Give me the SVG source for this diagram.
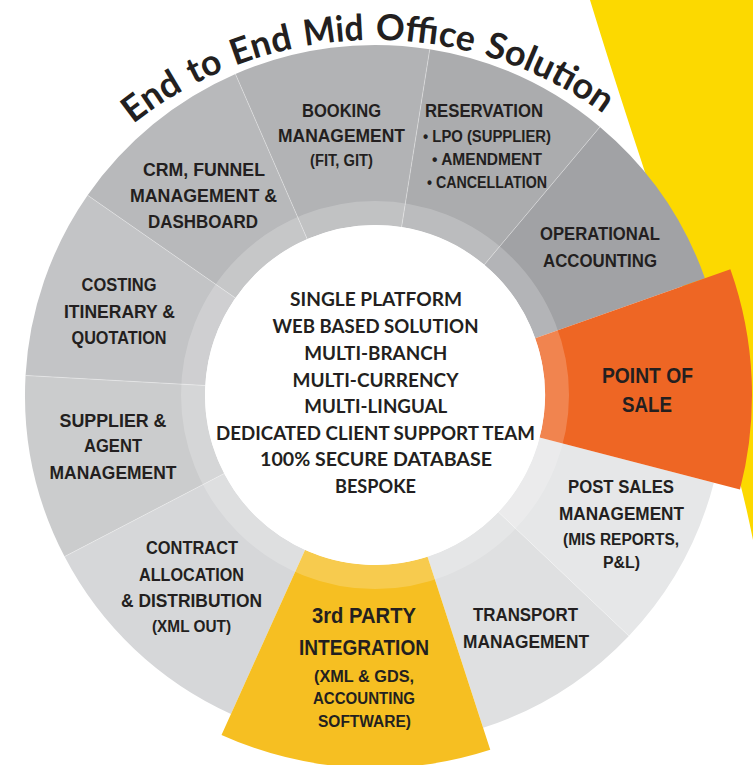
<svg xmlns="http://www.w3.org/2000/svg" width="753" height="765" viewBox="0 0 753 765">
<style>
.lb{font-family:"Liberation Sans",Arial,sans-serif;font-weight:bold;font-size:19px;fill:#231f20;text-anchor:middle}
.sm{font-size:16px}
.big{font-size:22px}
.ct{font-family:Lato,"Open Sans","DejaVu Sans",sans-serif;font-weight:bold;font-size:19px;fill:#231f20;text-anchor:middle}
.title{font-family:Lato,"Open Sans","DejaVu Sans",sans-serif;font-weight:bold;font-size:36px;fill:#231f20}
.sep{stroke:#ffffff;stroke-opacity:0.45;stroke-width:0.8;fill:none}
</style>
<defs>
<path id="titleArc" d="M-15,430 A390,390 0 0 1 765,430"/>
</defs>
<rect x="0" y="0" width="753" height="765" fill="#ffffff"/>
<path id="bg-yellow" d="M590,0 L753,0 L753,540 C724.5,395 651,200 590,0 Z" fill="#fcd900"/>

<g id="title">
<text class="title"><textPath href="#titleArc" startOffset="351.5" textLength="61" lengthAdjust="spacingAndGlyphs">End</textPath></text>
<text class="title"><textPath href="#titleArc" startOffset="424.3" textLength="33.4" lengthAdjust="spacingAndGlyphs">to</textPath></text>
<text class="title"><textPath href="#titleArc" startOffset="469.2" textLength="61" lengthAdjust="spacingAndGlyphs">End</textPath></text>
<text class="title"><textPath href="#titleArc" startOffset="542" textLength="59.5" lengthAdjust="spacingAndGlyphs">Mid</textPath></text>
<text class="title"><textPath href="#titleArc" startOffset="613.1" textLength="97.6" lengthAdjust="spacingAndGlyphs">Office</textPath></text>
<text class="title"><textPath href="#titleArc" startOffset="722.2" textLength="134.3" lengthAdjust="spacingAndGlyphs">Solution</textPath></text>
</g>

<g id="post-sales">
<path d="M539.59,437.56 L713.85,482.63 A350,350 0 0 1 628.88,635.92 L498.31,512.02 A170,170 0 0 0 539.59,437.56 Z" fill="#e6e7e8"/>
<text class="lb" x="621" y="493" textLength="106" lengthAdjust="spacingAndGlyphs">POST SALES</text>
<text class="lb" x="621.5" y="520" textLength="125" lengthAdjust="spacingAndGlyphs">MANAGEMENT</text>
<text class="lb sm" x="621" y="545" textLength="116" lengthAdjust="spacingAndGlyphs">(MIS REPORTS,</text>
<text class="lb sm" x="621.5" y="568" textLength="37" lengthAdjust="spacingAndGlyphs">P&amp;L)</text>
</g>

<g id="transport">
<path d="M498.31,512.02 L628.88,635.92 A350,350 0 0 1 483.16,727.87 L427.53,556.68 A170,170 0 0 0 498.31,512.02 Z" fill="#dfe0e1"/>
<text class="lb" x="525.5" y="621" textLength="105" lengthAdjust="spacingAndGlyphs">TRANSPORT</text>
<text class="lb" x="526" y="647.7" textLength="126" lengthAdjust="spacingAndGlyphs">MANAGEMENT</text>
</g>

<g id="contract">
<path d="M305.04,549.94 L230.97,713.99 A350,350 0 0 1 64.55,556.61 L224.21,473.5 A170,170 0 0 0 305.04,549.94 Z" fill="#d6d7d9"/>
<text class="lb" x="192" y="554" textLength="92" lengthAdjust="spacingAndGlyphs">CONTRACT</text>
<text class="lb" x="191.5" y="580.7" textLength="105" lengthAdjust="spacingAndGlyphs">ALLOCATION</text>
<text class="lb" x="191.5" y="607.3" textLength="141" lengthAdjust="spacingAndGlyphs">&amp; DISTRIBUTION</text>
<text class="lb sm" x="191.5" y="631.7" textLength="79" lengthAdjust="spacingAndGlyphs">(XML OUT)</text>
</g>

<g id="supplier">
<path d="M224.21,473.5 L64.55,556.61 A350,350 0 0 1 25.55,375.46 L205.27,385.51 A170,170 0 0 0 224.21,473.5 Z" fill="#cbcccd"/>
<text class="lb" x="113" y="426.7" textLength="107" lengthAdjust="spacingAndGlyphs">SUPPLIER &amp;</text>
<text class="lb" x="113" y="452.3" textLength="58" lengthAdjust="spacingAndGlyphs">AGENT</text>
<text class="lb" x="113" y="479.3" textLength="127" lengthAdjust="spacingAndGlyphs">MANAGEMENT</text>
</g>

<g id="costing">
<path d="M205.27,385.51 L25.55,375.46 A350,350 0 0 1 87.6,195.25 L235.4,297.98 A170,170 0 0 0 205.27,385.51 Z" fill="#c3c4c6"/>
<text class="lb" x="119" y="291" textLength="75" lengthAdjust="spacingAndGlyphs">COSTING</text>
<text class="lb" x="119.5" y="318.3" textLength="111" lengthAdjust="spacingAndGlyphs">ITINERARY &amp;</text>
<text class="lb" x="119" y="344" textLength="95" lengthAdjust="spacingAndGlyphs">QUOTATION</text>
</g>

<g id="crm">
<path d="M235.4,297.98 L87.6,195.25 A350,350 0 0 1 235.44,74.03 L307.21,239.1 A170,170 0 0 0 235.4,297.98 Z" fill="#b8b9bb"/>
<text class="lb" x="204" y="176" textLength="122" lengthAdjust="spacingAndGlyphs">CRM, FUNNEL</text>
<text class="lb" x="203.5" y="202" textLength="147" lengthAdjust="spacingAndGlyphs">MANAGEMENT &amp;</text>
<text class="lb" x="203" y="228" textLength="110" lengthAdjust="spacingAndGlyphs">DASHBOARD</text>
</g>

<g id="booking">
<path d="M307.21,239.1 L235.44,74.03 A350,350 0 0 1 429.75,49.31 L401.59,227.09 A170,170 0 0 0 307.21,239.1 Z" fill="#b2b3b5"/>
<text class="lb" x="341.5" y="116.5" textLength="79" lengthAdjust="spacingAndGlyphs">BOOKING</text>
<text class="lb" x="341.5" y="141.5" textLength="127" lengthAdjust="spacingAndGlyphs">MANAGEMENT</text>
<text class="lb sm" x="341.5" y="166" textLength="63" lengthAdjust="spacingAndGlyphs">(FIT, GIT)</text>
</g>

<g id="reservation">
<path d="M401.59,227.09 L429.75,49.31 A350,350 0 0 1 599.98,126.89 L484.27,264.77 A170,170 0 0 0 401.59,227.09 Z" fill="#abacae"/>
<text class="lb" x="484" y="116.5" textLength="118" lengthAdjust="spacingAndGlyphs">RESERVATION</text>
<text class="lb sm" x="487" y="141.5" textLength="128" lengthAdjust="spacingAndGlyphs">• LPO (SUPPLIER)</text>
<text class="lb sm" x="487" y="164.5" textLength="110" lengthAdjust="spacingAndGlyphs">• AMENDMENT</text>
<text class="lb sm" x="487" y="188.3" textLength="120" lengthAdjust="spacingAndGlyphs">• CANCELLATION</text>
</g>

<g id="operational">
<path d="M484.27,264.77 L599.98,126.89 A350,350 0 0 1 704.92,278.17 L535.25,338.25 A170,170 0 0 0 484.27,264.77 Z" fill="#a1a2a5"/>
<text class="lb" x="600" y="240" textLength="120" lengthAdjust="spacingAndGlyphs">OPERATIONAL</text>
<text class="lb" x="600" y="266.7" textLength="114" lengthAdjust="spacingAndGlyphs">ACCOUNTING</text>
</g>

<g id="separators">
<line class="sep" x1="498.31" y1="512.02" x2="628.88" y2="635.92"/>
<line class="sep" x1="224.21" y1="473.5" x2="64.55" y2="556.61"/>
<line class="sep" x1="205.27" y1="385.51" x2="25.55" y2="375.46"/>
<line class="sep" x1="235.4" y1="297.98" x2="87.6" y2="195.25"/>
<line class="sep" x1="307.21" y1="239.1" x2="235.44" y2="74.03"/>
<line class="sep" x1="401.59" y1="227.09" x2="429.75" y2="49.31"/>
<line class="sep" x1="484.27" y1="264.77" x2="599.98" y2="126.89"/>
</g>

<g id="point-of-sale">
<path d="M535.25,338.25 L730.38,269.15 A377,377 0 0 1 739.99,489.39 L539.59,437.56 A170,170 0 0 0 535.25,338.25 Z" fill="#ee6624"/>
<text class="lb big" x="647.5" y="383" textLength="91" lengthAdjust="spacingAndGlyphs">POINT OF</text>
<text class="lb big" x="647" y="412" textLength="50" lengthAdjust="spacingAndGlyphs">SALE</text>
</g>

<g id="third-party">
<path d="M427.53,556.68 L490.26,749.75 A373,373 0 0 1 221.51,734.95 L305.04,549.94 A170,170 0 0 0 427.53,556.68 Z" fill="#f6bf22"/>
<text class="lb big" x="364" y="623" textLength="104" lengthAdjust="spacingAndGlyphs">3rd PARTY</text>
<text class="lb big" x="364" y="655" textLength="130" lengthAdjust="spacingAndGlyphs">INTEGRATION</text>
<text class="lb sm" x="364" y="681.7" textLength="100" lengthAdjust="spacingAndGlyphs">(XML &amp; GDS,</text>
<text class="lb sm" x="364" y="704" textLength="102" lengthAdjust="spacingAndGlyphs">ACCOUNTING</text>
<text class="lb sm" x="364.5" y="727.3" textLength="93" lengthAdjust="spacingAndGlyphs">SOFTWARE)</text>
</g>

<circle cx="375" cy="395" r="182" fill="none" stroke="#ffffff" stroke-opacity="0.2" stroke-width="24"/>
<circle cx="375" cy="395" r="170" fill="#ffffff"/>

<g id="core">
<text class="ct" x="376" y="305.7" textLength="172" lengthAdjust="spacingAndGlyphs">SINGLE PLATFORM</text>
<text class="ct" x="375.5" y="332.7" textLength="206" lengthAdjust="spacingAndGlyphs">WEB BASED SOLUTION</text>
<text class="ct" x="375.7" y="360" textLength="143" lengthAdjust="spacingAndGlyphs">MULTI-BRANCH</text>
<text class="ct" x="375.5" y="386.7" textLength="166" lengthAdjust="spacingAndGlyphs">MULTI-CURRENCY</text>
<text class="ct" x="375.7" y="412.7" textLength="143" lengthAdjust="spacingAndGlyphs">MULTI-LINGUAL</text>
<text class="ct" x="375.5" y="440" textLength="319" lengthAdjust="spacingAndGlyphs">DEDICATED CLIENT SUPPORT TEAM</text>
<text class="ct" x="376" y="465.5" textLength="232" lengthAdjust="spacingAndGlyphs">100% SECURE DATABASE</text>
<text class="ct" x="375.5" y="492.7" textLength="81" lengthAdjust="spacingAndGlyphs">BESPOKE</text>
</g>
</svg>
